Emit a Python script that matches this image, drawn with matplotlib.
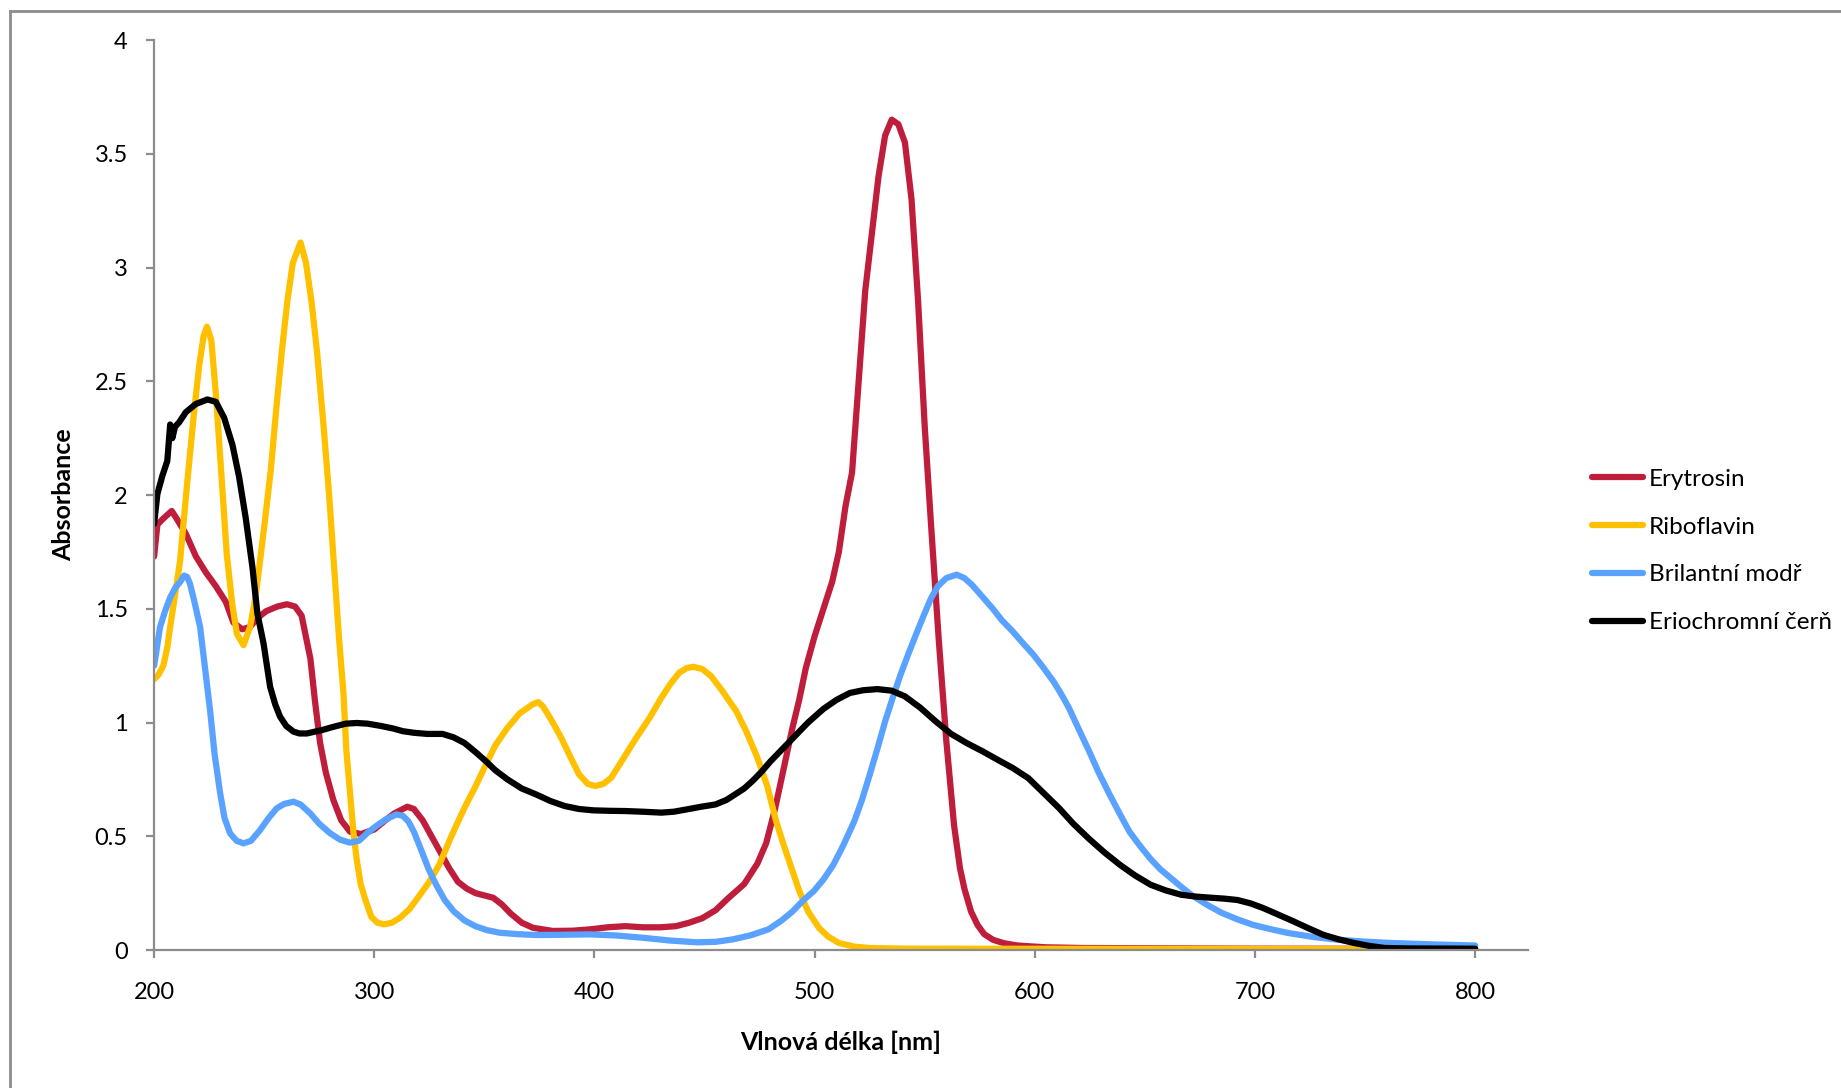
import matplotlib
matplotlib.use("Agg")
import matplotlib.pyplot as plt
from matplotlib.lines import Line2D

plt.rcParams['font.family'] = ['Lato', 'DejaVu Sans']

# absorption spectra: wavelength [nm], absorbance
ery_nm = [200, 201.5, 204, 208, 210, 214.4, 219, 223.5, 228, 232.6, 236, 240, 243.6, 247, 251, 256, 260.3,
          264, 267, 271, 273, 275.4, 278, 281.4, 285, 289, 294, 300, 305, 309, 315, 318, 322, 326, 330, 334,
          338, 342, 346, 354, 358, 362, 367, 372, 381, 390, 398, 406, 414, 422, 430, 437, 443, 449, 455, 461,
          468, 474, 478, 482, 486, 490, 493, 496, 500, 504, 508, 511, 514, 517, 520, 523, 526, 529, 532, 535,
          538, 541, 544, 547, 550, 553, 556.4, 559.8, 563.3, 566, 568, 571, 574, 577, 581, 586, 592, 605, 622,
          700, 800]
ery_abs = [1.73, 1.87, 1.895, 1.93, 1.90, 1.83, 1.73, 1.66, 1.60, 1.53, 1.44, 1.41, 1.42, 1.46, 1.49, 1.51, 1.52,
           1.51, 1.47, 1.28, 1.10, 0.91, 0.78, 0.66, 0.57, 0.52, 0.51, 0.53, 0.57, 0.60, 0.63, 0.62, 0.57, 0.50,
           0.43, 0.36, 0.30, 0.27, 0.25, 0.23, 0.20, 0.16, 0.12, 0.098, 0.084, 0.085, 0.091, 0.10, 0.105, 0.10,
           0.10, 0.105, 0.12, 0.14, 0.175, 0.23, 0.29, 0.38, 0.47, 0.62, 0.80, 0.98, 1.10, 1.24, 1.38, 1.50, 1.62,
           1.75, 1.95, 2.10, 2.50, 2.90, 3.15, 3.40, 3.58, 3.65, 3.63, 3.55, 3.30, 2.85, 2.30, 1.85, 1.36, 0.92,
           0.55, 0.36, 0.27, 0.17, 0.11, 0.07, 0.045, 0.03, 0.02, 0.012, 0.009, 0.006, 0.005]

ribo_nm = [200, 202, 204.2, 206, 207.3, 209.5, 211.8, 215, 218, 220.5, 222.5, 224, 226, 228, 230.5, 233, 235.5,
           237.6, 240.6, 243.6, 246, 248, 250.5, 253, 255.5, 258, 260.5, 263, 266.5, 269, 271.5, 274, 277,
           279.5, 282, 284, 286, 287.3, 289, 290.6, 292, 293.8, 296, 298.7, 301.5, 304.4, 308, 311.7, 316,
           319.8, 325, 329.6, 335, 341, 346, 350.7, 355, 360.5, 366, 371.9, 374.5, 376.7, 380.5, 384.9, 389,
           393, 397, 400.3, 404, 407.6, 413, 419, 425, 430.4, 434.5, 438.5, 442, 445, 449, 453, 458, 464.4,
           469, 474, 478.5, 482.4, 486, 489.5, 493, 497, 502, 506, 511, 518, 525, 541, 800]
ribo_abs = [1.19, 1.21, 1.25, 1.33, 1.42, 1.56, 1.71, 2.05, 2.35, 2.57, 2.70, 2.74, 2.68, 2.45, 2.10, 1.74, 1.52,
            1.39, 1.34, 1.42, 1.55, 1.70, 1.90, 2.11, 2.38, 2.63, 2.85, 3.02, 3.11, 3.02, 2.85, 2.63, 2.30,
            2.00, 1.65, 1.37, 1.13, 0.88, 0.69, 0.51, 0.40, 0.29, 0.22, 0.145, 0.12, 0.113, 0.12, 0.142, 0.18,
            0.23, 0.30, 0.377, 0.50, 0.626, 0.72, 0.816, 0.90, 0.977, 1.04, 1.08, 1.09, 1.07, 1.01, 0.933, 0.85,
            0.772, 0.73, 0.721, 0.73, 0.757, 0.84, 0.933, 1.02, 1.109, 1.17, 1.219, 1.24, 1.245, 1.235, 1.204,
            1.14, 1.05, 0.96, 0.845, 0.72, 0.57, 0.46, 0.36, 0.26, 0.17, 0.097, 0.06, 0.031, 0.015, 0.009,
            0.006, 0.004]

bril_nm = [200, 200.5, 202.7, 205, 207.3, 209.8, 212, 213.6, 215, 216.3, 218.2, 220.9, 223, 225.4, 227.5, 230,
           232, 234.5, 237.5, 240.6, 244, 248.1, 252, 255.7, 259, 263.3, 266.5, 270.9, 275, 280, 284.5, 289,
           293, 297, 301, 305.2, 310, 313, 315.5, 318, 321.5, 324.5, 328, 332, 336, 341, 345.9, 351, 357, 365,
           373.5, 385, 397.9, 410, 422, 434, 446.5, 455, 462.9, 471, 479, 485, 490, 495, 499.5, 504, 508.5,
           513, 518, 521.5, 525, 528.5, 532, 535.5, 539, 542.5, 546, 549.5, 552.9, 556, 559.8, 564.5, 568,
           571.4, 576, 580.7, 585, 590, 594.5, 599.2, 604, 608.5, 612, 615.5, 620, 624.7, 629, 634, 638.5,
           643, 648, 652.6, 657, 661.8, 666.5, 671, 678, 685, 692, 699, 707, 715, 726, 738, 750, 761.5, 780,
           800]
bril_abs = [1.25, 1.28, 1.42, 1.49, 1.55, 1.595, 1.62, 1.646, 1.64, 1.61, 1.536, 1.42, 1.25, 1.055, 0.86, 0.689,
            0.58, 0.513, 0.48, 0.469, 0.48, 0.527, 0.58, 0.623, 0.642, 0.652, 0.64, 0.601, 0.555, 0.513, 0.485,
            0.472, 0.48, 0.516, 0.546, 0.574, 0.596, 0.59, 0.565, 0.52, 0.435, 0.36, 0.289, 0.22, 0.171, 0.13,
            0.105, 0.088, 0.076, 0.07, 0.066, 0.067, 0.069, 0.064, 0.054, 0.042, 0.034, 0.036, 0.047, 0.065,
            0.091, 0.13, 0.17, 0.22, 0.258, 0.31, 0.375, 0.46, 0.566, 0.66, 0.77, 0.885, 1.005, 1.11, 1.21,
            1.30, 1.386, 1.47, 1.547, 1.60, 1.635, 1.65, 1.635, 1.606, 1.555, 1.503, 1.45, 1.40, 1.35, 1.30,
            1.24, 1.18, 1.125, 1.064, 0.97, 0.873, 0.78, 0.683, 0.60, 0.52, 0.455, 0.40, 0.355, 0.316, 0.278,
            0.243, 0.20, 0.163, 0.135, 0.111, 0.092, 0.075, 0.058, 0.045, 0.037, 0.031, 0.025, 0.02]

erio_nm = [200, 201.5, 203.8, 206, 207.3, 208.3, 209.5, 211.4, 214.4, 218.9, 224.2, 228, 231.8, 235.6, 238.6,
           241.6, 244.7, 246.9, 249.7, 252.7, 255, 257.2, 260, 263.3, 266, 269.4, 273, 276, 281, 287, 292,
           297, 303, 308.5, 313, 318, 324, 331, 336, 341, 346, 350.7, 355, 360.5, 367, 373.5, 380, 386.5, 393,
           399.5, 407, 414, 422, 430.4, 436, 441.8, 448.5, 455, 460, 464, 468, 472, 476, 480, 485, 490, 497,
           504, 510, 516, 522, 528.5, 535, 541, 548, 555, 562, 569, 576, 583, 590, 597, 604, 611, 617.5,
           624.5, 631.5, 638.6, 645.5, 652.6, 659.5, 666.5, 673, 680, 686, 692, 698, 703.6, 710, 717.5, 724,
           731, 738, 745, 752, 759, 770, 800]
erio_abs = [1.873, 2.005, 2.086, 2.15, 2.31, 2.25, 2.30, 2.32, 2.364, 2.40, 2.42, 2.41, 2.34, 2.22, 2.08, 1.90,
            1.68, 1.48, 1.348, 1.157, 1.08, 1.026, 0.985, 0.96, 0.952, 0.952, 0.96, 0.966, 0.98, 0.995, 0.998,
            0.995, 0.985, 0.974, 0.962, 0.955, 0.95, 0.95, 0.935, 0.91, 0.87, 0.83, 0.79, 0.75, 0.71, 0.684,
            0.655, 0.633, 0.62, 0.614, 0.612, 0.611, 0.608, 0.604, 0.608, 0.618, 0.63, 0.64, 0.66, 0.685, 0.71,
            0.745, 0.785, 0.83, 0.88, 0.93, 1.00, 1.06, 1.10, 1.13, 1.142, 1.147, 1.14, 1.115, 1.065, 1.005,
            0.95, 0.91, 0.875, 0.837, 0.80, 0.756, 0.69, 0.624, 0.555, 0.49, 0.43, 0.375, 0.328, 0.287, 0.262,
            0.243, 0.235, 0.23, 0.226, 0.22, 0.205, 0.185, 0.158, 0.126, 0.097, 0.067, 0.047, 0.031, 0.018,
            0.009, 0.007, 0.006]

x_ticks = [200, 300, 400, 500, 600, 700, 800]
y_ticks = [0, 0.5, 1, 1.5, 2, 2.5, 3, 3.5, 4]

fig = plt.figure(figsize=(18.41, 10.88), dpi=100)
ax = fig.add_axes([0.0837, 0.1268, 0.7463, 0.8364])

lw = 4.5
style = dict(lw=lw, solid_joinstyle='round', solid_capstyle='round')
ax.plot(ery_nm, ery_abs, color='#BE1E3C', label='Erytrosin', **style)
ax.plot(ribo_nm, ribo_abs, color='#FFC000', label='Riboflavin', **style)
ax.plot(bril_nm, bril_abs, color='#5AA2FF', label='Brilantní modř', **style)
ax.plot(erio_nm, erio_abs, color='black', label='Eriochromní čerň', **style)

ax.set_xlim(200, 824)
ax.set_ylim(0, 4)
ax.set_xticks(x_ticks)
ax.set_yticks(y_ticks)
ax.set_yticklabels([f"{v:g}" for v in y_ticks])

for s in ['top', 'right']:
    ax.spines[s].set_visible(False)
for s in ['left', 'bottom']:
    ax.spines[s].set_color('#8C8C8C')
    ax.spines[s].set_linewidth(1.6)
ax.tick_params(axis='both', colors='#8C8C8C', length=6, width=1.6, labelcolor='black', labelsize=17)
ax.tick_params(axis='y', pad=13)
ax.tick_params(axis='x', pad=17)

ax.set_xlabel('Vlnová délka [nm]', fontsize=18, fontweight='bold', labelpad=20)
ax.set_ylabel('Absorbance', fontsize=18, fontweight='bold', labelpad=14)

fig.legend(loc='center left', bbox_to_anchor=(0.8595, 0.4935), frameon=False, fontsize=17.5,
           handlelength=2.1, handletextpad=0.25, labelspacing=1.1, borderaxespad=0)

# chart border (only top and left edges are in frame)
fig.add_artist(Line2D([0.0054, 1.0], [0.9899, 0.9899], color='#8C8C8C', lw=2, transform=fig.transFigure))
fig.add_artist(Line2D([0.0054, 0.0054], [0.0, 0.9899], color='#8C8C8C', lw=2, transform=fig.transFigure))

fig.savefig('out.png', dpi=100, facecolor='white')
